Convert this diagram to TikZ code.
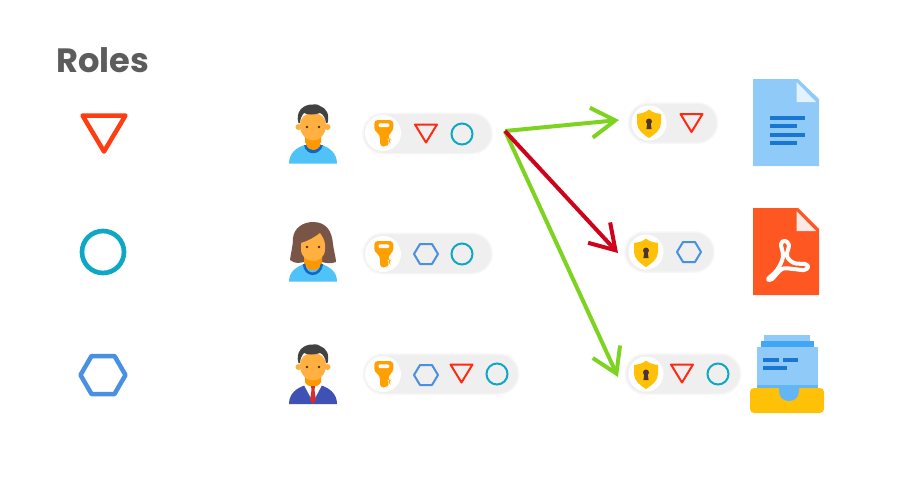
\documentclass[tikz,border=0pt]{standalone}
\usepackage{fontspec}
\newfontfamily\rolesfont{Poppins}
\usetikzlibrary{arrows.meta,shapes.misc,shapes.geometric}
\definecolor{rolered}{HTML}{FF3D12}
\definecolor{smallred}{HTML}{FF2A12}
\definecolor{roleteal}{HTML}{0FA8C4}
\definecolor{roleblue}{HTML}{4A90E2}
\definecolor{pillgrey}{HTML}{EFEFEF}
\definecolor{pilledge}{HTML}{F6F6F6}
\definecolor{keyorange}{HTML}{FFA000}
\definecolor{shieldyellow}{HTML}{FFC107}
\definecolor{keyholebrown}{HTML}{4E342E}
\definecolor{arrowgreen}{HTML}{7ED321}
\definecolor{arrowred}{HTML}{D0021B}
\definecolor{docblue}{HTML}{90CAF9}
\definecolor{docdark}{HTML}{1976D2}
\definecolor{docmid}{HTML}{64B5F6}
\definecolor{docstrip}{HTML}{42A5F5}
\definecolor{docfold}{HTML}{E3F2FD}
\definecolor{pdforange}{HTML}{FF5722}
\definecolor{pdffold}{HTML}{FBE9E7}
\definecolor{skin}{HTML}{FFB040}
\definecolor{neck}{HTML}{FF9800}
\definecolor{hairdark}{HTML}{424242}
\definecolor{hairbrown}{HTML}{795548}
\definecolor{shirtblue}{HTML}{4FC3F7}
\definecolor{collarblue}{HTML}{1565C0}
\definecolor{suitblue}{HTML}{3F51B5}
\definecolor{tiered}{HTML}{D32F2F}
\tikzset{
  pill/.style={rounded rectangle,fill=pillgrey,draw=pilledge,line width=1.5pt,inner sep=0pt,minimum height=40pt},
  bigtri/.style={draw=rolered,line width=4.5pt,line join=round},
  bigcirc/.style={draw=roleteal,line width=4.7pt},
  bighex/.style={draw=roleblue,line width=4.5pt,line join=round},
  linkarrow/.style={line width=4pt,-{Straight Barb[length=24pt,width=30pt,line width=4pt]}},
  pics/tri/.style={code={\draw[smallred,line width=2pt,line join=round] (-11,-9)--(11,-9)--(0,9)--cycle;}},
  pics/circ/.style={code={\draw[roleteal,line width=2pt] (0,0) circle[radius=10.5];}},
  pics/hex/.style={code={\draw[roleblue,line width=2pt,line join=round] (-12,0)--(-6,-10)--(6,-10)--(12,0)--(6,10)--(-6,10)--cycle;}},
  pics/keyicon/.style={code={
    \fill[white] (0,0) circle[radius=18];
    \fill[keyorange,rounded corners=3.5pt] (-8.7,-13)--(10.3,-13)--(10.3,-2)--(5.3,1.5)--(5.3,6)--(6.6,6.5)--(5.3,8)--(6.6,9.5)--(5.3,11)--(3.5,13.5)--(-3,13.5)--(-3,1.5)--(-8.7,-2)--cycle;
    \fill[white,rounded corners=1.2pt] (-4.5,-9.6) rectangle (6.3,-6);
  }},
  pics/shieldicon/.style={code={
    \fill[white] (0,0) circle[radius=17.5];
    \fill[shieldyellow] (0,-13.5) .. controls (-3,-10.5) and (-8,-9.5) .. (-12,-9) -- (-12,0) .. controls (-12,7) and (-5,12) .. (0,15) .. controls (5,12) and (12,7) .. (12,0) -- (12,-9) .. controls (8,-9.5) and (3,-10.5) .. (0,-13.5) -- cycle;
    \fill[keyholebrown] (0,-1.5) circle[radius=3];
    \fill[keyholebrown] (-1.5,-1) -- (1.5,-1) -- (2.6,6) -- (-2.6,6) -- cycle;
  }},
  pics/face/.style={code={
    \fill[skin] (-14.5,0) circle[radius=3]; \fill[skin] (14.5,0) circle[radius=3];
    \fill[neck] (-8,6) -- (8,6) -- (8,15) .. controls (6,21) and (-6,21) .. (-8,15) -- cycle;
    \fill[skin] (0,-14) .. controls (8,-14) and (13,-9) .. (13,-2) .. controls (13,8) and (6,13.5) .. (0,13.5) .. controls (-6,13.5) and (-13,8) .. (-13,-2) .. controls (-13,-9) and (-8,-14) .. (0,-14) -- cycle;
    \fill[keyholebrown] (-6,0) circle[radius=1.3]; \fill[keyholebrown] (6,0) circle[radius=1.3];
  }},
  pics/hairstyle/.style={code={
    \fill[hairdark] (-14.5,-4) .. controls (-18,-15) and (-10,-23) .. (0,-22.5) .. controls (4,-23) and (6,-22) .. (7,-21) .. controls (13,-19) and (17,-13) .. (14.5,-4) -- (13,-4) .. controls (12.5,-9) and (10,-13) .. (7,-14) .. controls (2,-12) and (-6,-12) .. (-9,-14) .. controls (-11,-12) and (-13,-8) .. (-13,-4) -- cycle;
  }}
}
\begin{document}
\begin{tikzpicture}[x=1pt,y=-1pt]
\useasboundingbox[fill=white] (0,0) rectangle (900,491);
% title and roles
\node[anchor=base west,inner sep=0pt,text=black!64,font=\rolesfont\bfseries\fontsize{33.7}{34}\selectfont] (title) at (56,72) {Roles};
\draw[bigtri] (82.5,115.5)--(125.5,115.5)--(104,151.5)--cycle;
\draw[bigcirc] (103,252) circle[radius=21];
\draw[bighex] (80.5,375)--(91.5,356)--(114.5,356)--(125.5,375)--(114.5,394)--(91.5,394)--cycle;
% pills
\node[pill,minimum width=129pt] (userA) at (427.5,133.5) {};
\node[pill,minimum width=129pt] (userB) at (427.5,253.5) {};
\node[pill,minimum width=155pt] (userC) at (441,374) {};
\node[pill,minimum width=89pt] (resA) at (673,123) {};
\node[pill,minimum width=89pt] (resB) at (669.5,252) {};
\node[pill,minimum width=115pt] (resC) at (683,374) {};
\pic at (383,133) {keyicon};
\pic at (383,254) {keyicon};
\pic at (383,374) {keyicon};
\pic at (426,133.5) {tri};
\pic at (462,134) {circ};
\pic at (426,254) {hex};
\pic at (462,254) {circ};
\pic at (426,375) {hex};
\pic at (461.5,373.5) {tri};
\pic at (497,374) {circ};
\pic at (649,123) {shieldicon};
\pic at (691.5,123) {tri};
\pic at (646,252) {shieldicon};
\pic at (689,252) {hex};
\pic at (646,374) {shieldicon};
\pic at (682,373.5) {tri};
\pic at (718,374) {circ};
% person 1
\fill[shirtblue] (289,163.5) .. controls (289,153) and (297,147) .. (305,145) -- (321,145) .. controls (329,147) and (337,153) .. (337,163.5) -- cycle;
\fill[collarblue] (304,145) .. controls (306,156) and (320,156) .. (323,145) -- cycle;
\fill[neck] (306,144) .. controls (308,152) and (318,152) .. (321,144) -- cycle;
\pic at (313,127) {face};
\pic at (313,127) {hairstyle};
% person 2
\fill[hairbrown] (313,222) .. controls (327,222) and (332,232) .. (333,244) .. controls (334,252) and (336,258) .. (336,262) .. controls (331,264) and (325,263) .. (322,262) -- (304,262) .. controls (300,263) and (295,264) .. (290,260) .. controls (291,252) and (293,246) .. (293,238) .. controls (294,228) and (303,222) .. (313,222) -- cycle;
\fill[shirtblue] (289,281.5) .. controls (289,272) and (296,267) .. (304,264) -- (322,264) .. controls (330,267) and (337,272) .. (337,281.5) -- cycle;
\fill[neck] (304,252) -- (322,252) -- (322,264) .. controls (319,272) and (307,272) .. (304,264) -- cycle;
\draw[collarblue,line width=2.5pt] (304,264) .. controls (305,277) and (320,277) .. (322,264);
\fill[skin] (301,243) .. controls (308,241) and (315,237) .. (320,233) .. controls (322,236) and (325,240) .. (325,245) -- (325,249) .. controls (325,257) and (319,261) .. (313,261) .. controls (307,261) and (301,257) .. (301,249) -- cycle;
\fill[keyholebrown] (307,247) circle[radius=1.3]; \fill[keyholebrown] (319,247) circle[radius=1.3];
% person 3
\fill[suitblue] (289,404) .. controls (289,394) and (296,388) .. (306,385) -- (320,385) .. controls (330,388) and (337,394) .. (337,404) -- cycle;
\fill[white] (304,385) -- (322,385) -- (313,402) -- cycle;
\pic at (313,367) {face};
\pic at (313,367) {hairstyle};
\fill[tiered] (311,386) -- (315,386) -- (314.5,390) -- (316,400) -- (313,404) -- (310,400) -- (311.5,390) -- cycle;
% document
\fill[docblue] (753,79) -- (798,79) -- (819,99) -- (819,166) -- (753,166) -- cycle;
\fill[docfold] (796.5,82) -- (796.5,102) -- (816,102) -- cycle;
\foreach \ly/\lx in {118/805,126/797,134.5/805,143/797}{\fill[docdark] (770,\ly-2) rectangle (\lx,\ly+2);}
% pdf
\fill[pdforange] (753,208) -- (798,208) -- (819,229) -- (819,295) -- (753,295) -- cycle;
\fill[pdffold] (796.5,211) -- (796.5,231) -- (816,231) -- cycle;
\draw[white,line width=4pt,line join=round] plot[smooth cycle,tension=0.6] coordinates {(768,279) (777,270) (783,257) (781,244) (785,241) (789,245) (787,256) (794,263) (805,264) (808,267) (804,270) (793,269) (782,269) (772,279)};
% archive
\fill[docblue] (764,335) rectangle (810,341);
\fill[docstrip] (761,341) rectangle (814,347);
\fill[docblue] (757,347) rectangle (818,388);
\fill[docmid] (757,385) rectangle (818,388);
\foreach \xa/\xb/\ly in {763/779/360,783/798/360,763/787/368}{\fill[docdark] (\xa,\ly-2) rectangle (\xb,\ly+2);}
\fill[shieldyellow,rounded corners=4pt] (750,388) -- (824,388) -- (824,413) -- (750,413) -- cycle;
\fill[docmid] (779,388) -- (799,388) -- (799,391) .. controls (799,398) and (794,401) .. (789,401) .. controls (784,401) and (779,398) .. (779,391) -- cycle;
% connectors
\coordinate (src) at (505,131);
\coordinate (endA) at (619,120);
\coordinate (endB) at (618,253);
\coordinate (endC) at (618,377);
\draw[linkarrow,arrowgreen] (src) -- (endA);
\draw[linkarrow,arrowgreen] (src) -- (endC);
\draw[linkarrow,arrowred] (src) -- (endB);
\end{tikzpicture}
\end{document}
